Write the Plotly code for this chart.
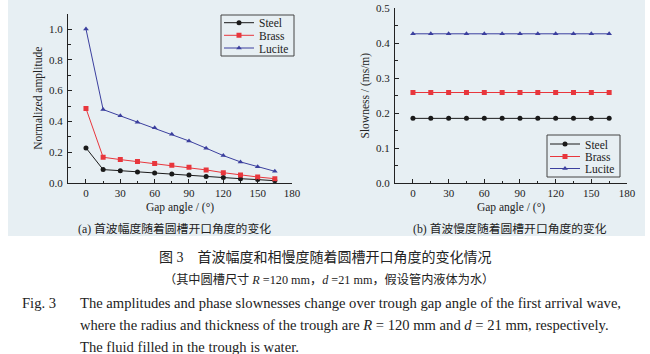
import plotly.graph_objects as go

angles = [0, 15, 30, 45, 60, 75, 90, 105, 120, 135, 150, 165]
amp_steel = [0.228, 0.087, 0.080, 0.072, 0.065, 0.059, 0.052, 0.043, 0.035, 0.028, 0.022, 0.015]
amp_brass = [0.484, 0.167, 0.152, 0.139, 0.126, 0.115, 0.102, 0.085, 0.067, 0.052, 0.039, 0.028]
amp_lucite = [1.0, 0.477, 0.436, 0.395, 0.358, 0.317, 0.273, 0.226, 0.178, 0.137, 0.106, 0.076]
slow_steel = [0.185] * 12
slow_brass = [0.259] * 12
slow_lucite = [0.427] * 12
series_names = ["Steel", "Brass", "Lucite"]
x_ticks = [0, 30, 60, 90, 120, 150, 180]

colors = ["#1a1a1a", "#e8363c", "#3b3f9e"]
symbols = ["circle", "square", "triangle-up"]
SERIF = "Liberation Serif"
CJK = "Noto Sans CJK SC"

# one single-item legend per entry so entries can sit closer than plotly's default spacing
left_leg_y = [22.7, 35.3, 48.0]     # pixel rows of legend entries (left panel)
right_leg_y = [144.0, 156.5, 168.5]  # pixel rows of legend entries (right panel)

fig = go.Figure()
for i, (name, ys, c, s) in enumerate(zip(series_names, [amp_steel, amp_brass, amp_lucite], colors, symbols)):
    fig.add_trace(go.Scatter(x=angles, y=ys, name=name, mode="lines+markers",
                             line=dict(color=c, width=1),
                             marker=dict(symbol=s, size=5, color=c),
                             xaxis="x", yaxis="y", legend=f"legend{i+2}", showlegend=True))
for i, (name, ys, c, s) in enumerate(zip(series_names, [slow_steel, slow_brass, slow_lucite], colors, symbols)):
    fig.add_trace(go.Scatter(x=angles, y=ys, name=name, mode="lines+markers",
                             line=dict(color=c, width=1),
                             marker=dict(symbol=s, size=5, color=c),
                             xaxis="x2", yaxis="y2", legend=f"legend{i+5}", showlegend=True))

axis_common = dict(showline=True, linecolor="#222", linewidth=1, ticks="inside",
                   ticklen=4, tickcolor="#222", showgrid=False, zeroline=False,
                   tickfont=dict(family=SERIF, size=11, color="#222"),
                   automargin=False)
title_font = dict(family=SERIF, size=11.5, color="#222")
legend_common = dict(xanchor="left", yanchor="middle", bgcolor="rgba(0,0,0,0)", borderwidth=0,
                     font=dict(family=SERIF, size=11.5, color="#222"), itemwidth=30,
                     tracegroupgap=0)

legends = {}
for i, yy in enumerate(left_leg_y):
    legends[f"legend{i+2}"] = dict(x=219/650, y=1-yy/354, **legend_common)
for i, yy in enumerate(right_leg_y):
    legends[f"legend{i+5}"] = dict(x=545/650, y=1-yy/354, **legend_common)

fig.update_layout(
    width=650, height=354, margin=dict(l=0, r=0, t=0, b=0),
    font=dict(family=SERIF, color="#222"),
    paper_bgcolor="white", plot_bgcolor="rgba(0,0,0,0)", showlegend=True,
    xaxis=dict(domain=[68/650, 292/650], range=[-15.7, 180], tickvals=x_ticks,
               minor=dict(ticks="inside", ticklen=2.5, dtick=15, tick0=0, tickcolor="#222"),
               title=dict(text="Gap angle / (°)", font=title_font, standoff=4),
               anchor="y", **axis_common),
    yaxis=dict(domain=[1-183/354, 1-13.6/354], range=[0, 1.1], dtick=0.2, tickformat=".1f",
               minor=dict(ticks="inside", ticklen=2.5, dtick=0.1, tickcolor="#222"),
               title=dict(text="Normalized amplitude", font=title_font, standoff=4),
               anchor="x", ticklabelstandoff=2, **axis_common),
    xaxis2=dict(domain=[395/650, 627/650], range=[-15.1, 180], tickvals=x_ticks,
                minor=dict(ticks="inside", ticklen=2.5, dtick=15, tick0=0, tickcolor="#222"),
                title=dict(text="Gap angle / (°)", font=title_font, standoff=4),
                anchor="y2", **axis_common),
    yaxis2=dict(domain=[1-183/354, 1-8.3/354], range=[0, 0.5], dtick=0.1, tickformat=".1f",
                minor=dict(ticks="inside", ticklen=2.5, dtick=0.05, tickcolor="#222"),
                title=dict(text="Slowness / (ms/m)", font=title_font, standoff=4),
                anchor="x2", ticklabelstandoff=2, **axis_common),
    **legends,
)

fig.add_shape(type="rect", xref="paper", yref="paper", x0=8/650, x1=645/650,
              y0=1-236/354, y1=1, fillcolor="#e7eff3", line=dict(width=0), layer="below")
fig.add_shape(type="rect", xref="paper", yref="paper", x0=221/650, x1=294/650,
              y0=1-56/354, y1=1-15/354, line=dict(color="#444", width=1), layer="above")
fig.add_shape(type="rect", xref="paper", yref="paper", x0=547/650, x1=620/650,
              y0=1-177/354, y1=1-135/354, line=dict(color="#444", width=1), layer="above")

def ann(text, x, y, size, family, xanchor="center"):
    fig.add_annotation(text=text, x=x/650, y=1-y/354, xref="paper", yref="paper",
                       xanchor=xanchor, yanchor="middle", showarrow=False,
                       font=dict(family=family, size=size, color="#222"))

ann("(a) 首波幅度随着圆槽开口角度的变化", 174, 229, 11.8, SERIF + ", " + CJK)
ann("(b) 首波慢度随着圆槽开口角度的变化", 510, 229, 11.8, SERIF + ", " + CJK)
ann("图 3　首波幅度和相慢度随着圆槽开口角度的变化情况", 326, 257, 14, SERIF + ", " + CJK)
ann("（其中圆槽尺寸 <i>R</i> =120 mm，<i>d</i> =21 mm，假设管内液体为水）", 329, 279, 12.2, SERIF + ", " + CJK)
ann("Fig. 3", 20, 303, 14.6, SERIF, "left")
ann("The amplitudes and phase slownesses change over trough gap angle of the first arrival wave,", 78, 303, 14.6, SERIF, "left")
ann("where the radius and thickness of the trough are <i>R</i> = 120 mm and <i>d</i> = 21 mm, respectively.", 78, 325, 14.6, SERIF, "left")
ann("The fluid filled in the trough is water.", 78, 347, 14.6, SERIF, "left")

fig.write_html("out.html")
